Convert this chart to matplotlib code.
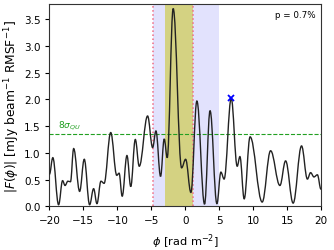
import matplotlib
matplotlib.use("Agg")
import matplotlib.pyplot as plt
from matplotlib.path import Path
from matplotlib.patches import PathPatch

# Faraday spectrum: local extrema (phi in rad m^-2, |F| in mJy/beam/RMSF)
phi_pts = [-20.0, -19.5, -18.65, -18.06, -17.7, -17.28, -16.9, -16.43, -15.55, -14.87,
           -14.08, -13.49, -13.0, -12.41, -11.95, -10.97, -10.08, -9.74, -9.28, -8.58,
           -8.02, -7.35, -6.77, -5.54, -4.8, -4.31, -3.63, -3.09, -2.65, -1.77,
           -0.53, 0.06, 0.84, 1.72, 2.85, 3.66, 4.67, 5.26, 5.73, 6.78,
           7.66, 8.06, 8.69, 9.56, 11.34, 12.58, 13.95, 14.79, 15.9, 17.14,
           18.0, 18.47, 18.97, 19.47, 20.0]
amp_pts = [0.6, 0.91, 0.03, 0.48, 0.39, 0.47, 0.46, 1.08, 0.28, 0.88,
           0.03, 0.33, 0.05, 0.47, 0.43, 1.38, 0.58, 0.62, 0.19, 0.95,
           0.37, 1.25, 0.75, 1.69, 1.10, 1.41, 0.56, 1.26, 0.91, 3.70,
           0.72, 0.88, 0.26, 1.97, 0.04, 1.79, 0.05, 0.64, 0.51, 2.02,
           0.75, 0.93, 0.14, 1.30, 0.08, 1.04, 0.39, 0.85, 0.06, 1.13,
           0.51, 0.63, 0.55, 0.59, 0.32]

peak_phi = [6.78]
peak_amp = [2.02]
threshold = [1.36]
rm_window = [-4.76, 5.0]
fit_window = [-2.94, 1.18]
rm_lines = [-4.76, 1.2]
xticks = [-20, -15, -10, -5, 0, 5, 10, 15, 20]
yticks = [0.0, 0.5, 1.0, 1.5, 2.0, 2.5, 3.0, 3.5]

plt.rcParams['font.family'] = ['DejaVu Sans']
fig = plt.figure(figsize=(3.34, 2.51), dpi=100)
ax = fig.add_axes([0.148, 0.174, 0.813, 0.805])

ax.axvspan(rm_window[0], rm_window[1], color='#e2e2fd', lw=0, zorder=0)
ax.axvspan(fit_window[0], fit_window[1], color='#d4d282', lw=0, zorder=1)
for xv in rm_lines:
    ax.axvline(xv, color='#f06a82', ls=':', lw=1.1, zorder=2)
ax.axhline(threshold[0], color='#22a022', ls='--', lw=0.8, zorder=2)

# smooth curve through the extrema with cubic Bezier segments (horizontal tangents)
verts = [(phi_pts[0], amp_pts[0])]
codes = [Path.MOVETO]
for i in range(1, len(phi_pts)):
    x0, y0 = phi_pts[i - 1], amp_pts[i - 1]
    x1, y1 = phi_pts[i], amp_pts[i]
    dx = x1 - x0
    verts += [(x0 + 0.38 * dx, y0), (x1 - 0.38 * dx, y1), (x1, y1)]
    codes += [Path.CURVE4] * 3
ax.add_patch(PathPatch(Path(verts, codes), fill=False, ec='#222222', lw=1.0, zorder=3))

ax.plot(peak_phi, peak_amp, 'x', color='blue', ms=5, mew=1.3, zorder=4)

ax.text(-18.8, threshold[0] + 0.04, r'$8\sigma_{QU}$', color='#22a022', fontsize=6.5,
        va='bottom', ha='left')
ax.text(0.98, 0.972, 'p = 0.7%', transform=ax.transAxes, ha='right', va='top', fontsize=6.3)

ax.set_xlim(-20, 20)
ax.set_ylim(0, 3.78)
ax.set_xticks(xticks)
ax.set_yticks(yticks)
ax.tick_params(labelsize=7.5, length=3, width=0.8)
ax.set_xlabel(r'$\phi$ [rad m$^{-2}$]', fontsize=8.2)
ax.set_ylabel(r'$|F(\phi)|$ [mJy beam$^{-1}$ RMSF$^{-1}$]', fontsize=8.8, labelpad=1)
for s in ax.spines.values():
    s.set_color('#333333')
    s.set_linewidth(0.8)

fig.savefig('out.png', dpi=100)
